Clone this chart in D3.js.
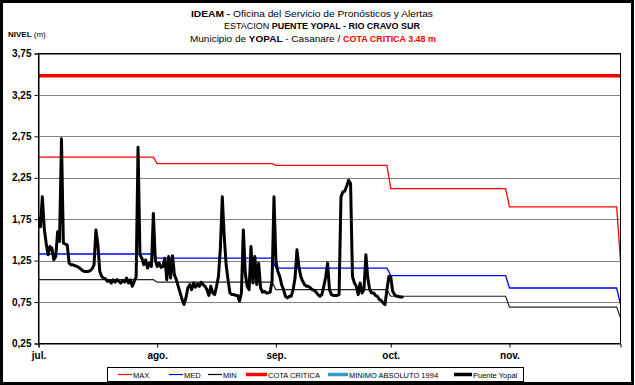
<!DOCTYPE html>
<html>
<head>
<meta charset="utf-8">
<script src="https://cdn.jsdelivr.net/npm/d3@7"></script>
<style>
  html, body { margin: 0; padding: 0; background: #fff; }
  svg { display: block; font-family: "Liberation Sans", Arial, sans-serif; }
</style>
</head>
<body>
<svg id="chart" width="635" height="385"></svg>
<script>
// Month labels along the time axis
const meses = ["jul.", "ago.", "sep.", "oct.", "nov."];
// Month start dates (same order as meses)
const inicioMes = ["2011-07-01", "2011-08-01", "2011-09-01", "2011-10-01", "2011-11-01"];
// Last day shown on the axis
const finPeriodo = "2011-11-30";

// Historical monthly levels (m): jul..nov, last entry = value on the final day
const nivelMax = [2.50, 2.42, 2.40, 2.12, 1.90, 1.25];
const nivelMed = [1.33, 1.28, 1.16, 1.07, 0.92, 0.72];
const nivelMin = [1.02, 0.99, 0.90, 0.82, 0.69, 0.56];

// Critical level (m)
const cotaCritica = 3.48;

// Y axis ticks (m) and their labels
const yTicks = [0.25, 0.75, 1.25, 1.75, 2.25, 2.75, 3.25, 3.75];
const yLabels = ["0,25", "0,75", "1,25", "1,75", "2,25", "2,75", "3,25", "3,75"];

// Puente Yopal readings (m), every 12 h starting 1 July 00:00
const lecturaInicio = "2011-07-01T00:00";
const lecturaPasoHoras = 12;
const puenteYopal = [
  1.76, 1.66, 2.02, 1.64, 1.46, 1.32, 1.42, 1.40, 1.26, 1.30,
  1.60, 1.48, 2.72, 1.46, 1.45, 1.44, 1.22, 1.20, 1.20, 1.19,
  1.18, 1.17, 1.15, 1.13, 1.12, 1.12, 1.12, 1.13, 1.15, 1.20,
  1.62, 1.45, 1.12, 1.06, 1.04, 1.03, 1.00, 1.01, 0.98, 1.02,
  0.99, 1.02, 1.00, 0.98, 1.01, 0.99, 1.04, 0.98, 1.02, 0.94,
  1.00, 1.05, 2.62, 1.32, 1.28, 1.20, 1.26, 1.16, 1.22, 1.18,
  1.82, 1.26, 1.18, 1.22, 1.17, 1.18, 1.28, 1.02, 1.30, 1.04,
  1.31, 1.08, 1.02, 0.94, 0.86, 0.78, 0.72, 0.80, 0.92, 0.96,
  0.90, 0.98, 0.93, 0.97, 0.94, 0.99, 0.96, 0.94, 0.90, 0.83,
  0.94, 0.86, 0.84, 0.94, 1.06, 1.40, 2.02, 1.55, 1.20, 1.02,
  0.86, 0.84, 0.84, 0.83, 0.83, 0.76, 0.86, 1.62, 1.10, 0.94,
  0.90, 1.42, 0.98, 1.30, 0.96, 1.22, 0.92, 0.87, 0.88, 0.86,
  0.86, 0.87, 1.00, 2.02, 1.25, 1.12, 1.06, 0.96, 0.90, 0.82,
  0.80, 0.82, 0.82, 0.90, 1.04, 1.38, 1.18, 1.06, 1.00, 0.96,
  0.94, 0.94, 0.92, 0.90, 0.89, 0.87, 0.84, 0.82, 0.84, 0.94,
  1.05, 1.22, 0.90, 0.84, 0.83, 0.83, 0.83, 0.84, 2.02, 2.08,
  2.09, 2.15, 2.22, 2.18, 1.06, 0.98, 0.94, 0.84, 0.98, 0.86,
  0.90, 1.32, 1.04, 0.90, 0.86, 0.86, 0.83, 0.82, 0.78, 0.77,
  0.74, 0.72, 0.90, 1.06, 1.05, 0.88, 0.84, 0.82, 0.82, 0.81,
  0.81
];

// Legend entries
const leyendaNombres = ["MAX", "MED", "MIN", "COTA CRITICA", "MINIMO ABSOLUTO 1994", "Puente Yopal"];
const leyendaColores = ["#ff0000", "#0000ff", "#000000", "#ff0000", "#3399cc", "#000000"];

// ---------------------------------------------------------------------------
const parseDay = d3.timeParse("%Y-%m-%d");
const parseTime = d3.timeParse("%Y-%m-%dT%H:%M");

const svg = d3.select("#chart");
const W = 635, H = 385;
const plot = { left: 38.5, right: 620.5, top: 53.5, bottom: 343.5 };

const x = d3.scaleTime()
  .domain([parseDay(inicioMes[0]), parseDay(finPeriodo)])
  .range([plot.left, plot.right]);
const y = d3.scaleLinear()
  .domain([yTicks[0], yTicks[yTicks.length - 1]])
  .range([plot.bottom, plot.top]);

// outer frame
svg.append("rect")
  .attr("x", 1.5).attr("y", 1.5).attr("width", W - 4).attr("height", H - 3)
  .attr("fill", "#fff").attr("stroke", "#000").attr("stroke-width", 3);

// dotted horizontal gridlines
svg.append("g").selectAll("line")
  .data(yTicks.slice(1))
  .join("line")
  .attr("x1", plot.left).attr("x2", plot.right)
  .attr("y1", d => Math.round(y(d)) + 0.5).attr("y2", d => Math.round(y(d)) + 0.5)
  .attr("stroke", "#000").attr("stroke-width", 1)
  .attr("stroke-dasharray", "1,1");

// daily reference series built from the monthly tables
const dias = d3.timeDay.range(parseDay(inicioMes[0]), parseDay(finPeriodo));
function serieMensual(valores) {
  const pts = dias.map(d => ({ date: d, v: valores[d.getMonth() - 6] }));
  pts.push({ date: parseDay(finPeriodo), v: valores[valores.length - 1] });
  return pts;
}
const linea = d3.line().x(d => x(d.date)).y(d => y(d.v));

svg.append("clipPath").attr("id", "clipPlot")
  .append("rect")
  .attr("x", plot.left).attr("y", plot.top)
  .attr("width", plot.right - plot.left).attr("height", plot.bottom - plot.top);

const g = svg.append("g").attr("clip-path", "url(#clipPlot)");

g.append("path").datum(serieMensual(nivelMin))
  .attr("d", linea).attr("fill", "none")
  .attr("stroke", "#222").attr("stroke-width", 1.2);
g.append("path").datum(serieMensual(nivelMed))
  .attr("d", linea).attr("fill", "none")
  .attr("stroke", "#0000ff").attr("stroke-width", 1.3);
g.append("path").datum(serieMensual(nivelMax))
  .attr("d", linea).attr("fill", "none")
  .attr("stroke", "#ff0000").attr("stroke-width", 1.3);

// critical level
g.append("line")
  .attr("x1", plot.left).attr("x2", plot.right)
  .attr("y1", y(cotaCritica)).attr("y2", y(cotaCritica))
  .attr("stroke", "#ff0000").attr("stroke-width", 3.5);

// observed levels
const t0 = parseTime(lecturaInicio);
const obs = puenteYopal.map((v, i) => ({ date: d3.timeHour.offset(t0, i * lecturaPasoHoras), v }));
g.append("path").datum(obs)
  .attr("d", linea).attr("fill", "none")
  .attr("stroke", "#000").attr("stroke-width", 3)
  .attr("stroke-linejoin", "round").attr("stroke-linecap", "round");

// plot border
svg.append("rect")
  .attr("x", plot.left).attr("y", plot.top)
  .attr("width", plot.right - plot.left).attr("height", plot.bottom - plot.top)
  .attr("fill", "none").attr("stroke", "#000").attr("stroke-width", 1);

// axes
const yAxis = svg.append("g")
  .attr("transform", `translate(${plot.left},0)`)
  .call(d3.axisLeft(y).tickValues(yTicks).tickSize(4).tickPadding(3)
    .tickFormat((d, i) => yLabels[i]));
const xAxis = svg.append("g")
  .attr("transform", `translate(0,${plot.bottom})`)
  .call(d3.axisBottom(x).tickValues(inicioMes.map(parseDay)).tickSize(4).tickPadding(4)
    .tickFormat((d, i) => meses[i]));
[yAxis, xAxis].forEach(ax => {
  ax.select(".domain").attr("stroke", "#000");
  ax.selectAll(".tick line").attr("stroke", "#000");
  ax.selectAll("text")
    .attr("font-family", "Liberation Sans, Arial, sans-serif")
    .attr("font-size", 10).attr("font-weight", "bold").attr("fill", "#000");
});

// title
const titulo = svg.append("g").attr("font-size", 9.5).attr("fill", "#000");
const l1 = titulo.append("text").attr("x", 312).attr("y", 16.5).attr("text-anchor", "middle")
  .attr("textLength", 242).attr("lengthAdjust", "spacingAndGlyphs");
l1.append("tspan").attr("font-weight", "bold").text("IDEAM - ");
l1.append("tspan").text("Oficina del Servicio de Pronósticos y Alertas");
const l2 = titulo.append("text").attr("x", 322).attr("y", 29).attr("text-anchor", "middle")
  .attr("textLength", 196).attr("lengthAdjust", "spacingAndGlyphs");
l2.append("tspan").text("ESTACION ");
l2.append("tspan").attr("font-weight", "bold").text("PUENTE YOPAL - RIO CRAVO SUR");
const l3 = titulo.append("text").attr("x", 313).attr("y", 41.5).attr("text-anchor", "middle")
  .attr("textLength", 246).attr("lengthAdjust", "spacingAndGlyphs");
l3.append("tspan").text("Municipio de ");
l3.append("tspan").attr("font-weight", "bold").text("YOPAL");
l3.append("tspan").text(" - Casanare  /  ");
l3.append("tspan").attr("font-weight", "bold").attr("fill", "#ff0000").attr("font-size", 8.5).text("COTA CRITICA 3.48 m");

// y axis caption
const cap = svg.append("text").attr("x", 8).attr("y", 37).attr("font-size", 8);
cap.append("tspan").attr("font-weight", "bold").text("NIVEL");
cap.append("tspan").text(" (m)");

// legend
const leg = svg.append("g");
leg.append("rect").attr("x", 107.5).attr("y", 367.5).attr("width", 416).attr("height", 14)
  .attr("fill", "#fff").attr("stroke", "#000").attr("stroke-width", 1);
const legX = [118, 169, 208, 246, 328, 454];
const legW = [14, 14, 14, 21, 20, 18];
const legSW = [1.2, 1.2, 1.2, 3.5, 3.5, 3.5];
leyendaNombres.forEach((n, i) => {
  leg.append("line")
    .attr("x1", legX[i]).attr("x2", legX[i] + legW[i])
    .attr("y1", 374.5).attr("y2", 374.5)
    .attr("stroke", leyendaColores[i]).attr("stroke-width", legSW[i]);
  leg.append("text")
    .attr("x", legX[i] + legW[i] + 1).attr("y", 377.5)
    .attr("font-size", 7.5).attr("fill", "#000")
    .text(n);
});
</script>
</body>
</html>
